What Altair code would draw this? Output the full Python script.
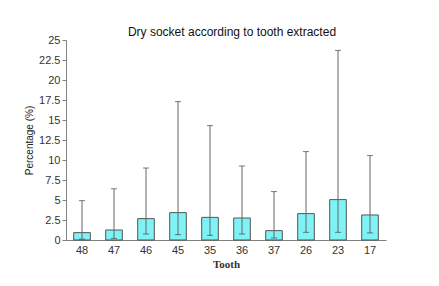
import altair as alt
import pandas as pd

teeth = ["48", "47", "46", "45", "35", "36", "37", "26", "23", "17"]
pct = [0.92, 1.25, 2.67, 3.42, 2.83, 2.75, 1.17, 3.3, 5.05, 3.13]
lower = [0.1, 0.2, 0.75, 0.67, 0.58, 0.75, 0.25, 0.96, 0.96, 0.88]
upper = [4.92, 6.4, 9.0, 17.3, 14.3, 9.25, 6.05, 11.05, 23.7, 10.55]
yticks = [0, 2.5, 5, 7.5, 10, 12.5, 15, 17.5, 20, 22.5, 25]

df = pd.DataFrame({"tooth": teeth, "pct": pct, "lo": lower, "hi": upper})

xaxis = alt.Axis(labelAngle=0, ticks=False, labelFont="Liberation Sans",
                 labelFontSize=11, labelColor="#333333", labelPadding=4,
                 titleFont="Liberation Serif", titleFontSize=11,
                 titleFontWeight="bold", titleColor="#333333", titlePadding=3,
                 domainColor="#808080")
yaxis = alt.Axis(values=yticks, labelExpr="toString(datum.value)", grid=False,
                 labelOverlap=False, tickSize=4, tickColor="#808080", domainColor="#808080",
                 labelFont="Liberation Sans", labelFontSize=11,
                 labelColor="#333333", titleFont="Liberation Sans",
                 titleFontSize=10, titleFontWeight="normal",
                 titleColor="#222222", titlePadding=4)
xscale = alt.Scale(paddingInner=0.48, paddingOuter=0.24)
yscale = alt.Scale(domain=[0, 25], nice=False)


def X():
    return alt.X("tooth:N", sort=teeth, title="Tooth", scale=xscale, axis=xaxis)


def Y(field):
    return alt.Y(field, scale=yscale, title="Percentage (%)", axis=yaxis)


bars = alt.Chart(df).mark_bar(color="#7ff2f5", stroke="#555555", strokeWidth=1).encode(
    x=X(), y=Y("pct:Q"),
)
rules = alt.Chart(df).mark_rule(color="#666666", strokeWidth=1).encode(
    x=X(), y=Y("lo:Q"), y2="hi:Q"
)
cap_hi = alt.Chart(df).mark_tick(color="#444444", orient="horizontal", size=6, thickness=1).encode(
    x=X(), y=Y("hi:Q")
)
cap_lo = alt.Chart(df).mark_tick(color="#444444", orient="horizontal", size=6, thickness=1).encode(
    x=X(), y=Y("lo:Q")
)

chart = alt.layer(bars, rules, cap_hi, cap_lo).properties(
    width=320, height=200,
    background="white",
    title=alt.TitleParams("Dry socket according to tooth extracted", font="Liberation Sans",
                          fontSize=12, fontWeight="normal", color="#111111", offset=3,
                          dx=6, dy=8),
    autosize=alt.AutoSizeParams(type="none"),
    padding={"left": 66, "top": 40, "right": 53, "bottom": 46},
).configure_view(stroke=None, strokeWidth=0)

chart.save("out.html", embed_options={"renderer": "svg", "actions": False})
